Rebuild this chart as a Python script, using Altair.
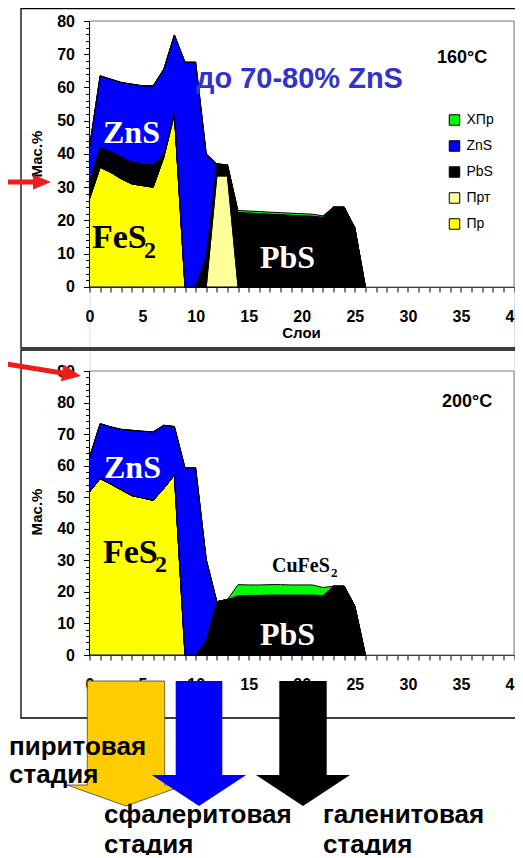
import altair as alt
import pandas as pd

SANS = "Liberation Sans, Arial, sans-serif"
SERIF = "Liberation Serif, Times New Roman, serif"

# ---------------- data ----------------
layers_x = list(range(27))

# stack order bottom -> top: Пр, Прт, PbS, ZnS, ХПр
top_pr = [26.5, 36.0, 34.5, 32.5, 31.0, 30.5, 30.0, 39.0, 52.0] + [0.0] * 18
top_prt = [0.0] * 12 + [33.4, 33.4] + [0.0] * 13
top_pbs = [5.0, 6.0, 6.2, 6.7, 6.5, 6.6, 6.7, 1.0, 0.0, 0.0, 0.0, 9.2, 3.6, 3.3,
           22.4, 22.25, 22.1, 21.9, 21.75, 21.6, 21.45, 21.3, 21.0, 24.0, 24.0, 17.8, 0.0]
top_zns = [10.5, 21.5, 21.8, 22.3, 23.5, 23.4, 23.8, 25.5, 23.8, 67.6, 67.6, 30.8] + [0.0] * 15
top_xpr = [0.0] * 14 + [0.6] * 8 + [0.4] + [0.0] * 4

bot_pr = [51.7, 55.9, 54.2, 52.3, 50.5, 49.8, 49.0, 52.8, 57.0] + [0.0] * 18
bot_prt = [0.0] * 27
bot_pbs = [0.0] * 11 + [4.5, 16.9, 17.6, 18.8, 18.9, 18.9, 19.0, 19.0, 19.0, 19.0, 19.0,
                        18.8, 21.8, 21.8, 15.5, 0.0]
bot_zns = [10.9, 17.4, 18.1, 19.2, 20.7, 21.1, 21.7, 20.0, 15.4, 59.3, 59.3, 25.8] + [0.0] * 15
bot_xpr = [0.0] * 14 + [3.5, 3.3, 3.3, 3.3, 3.3, 3.2, 3.2, 3.2, 2.6] + [0.0] * 4

legend_order = ["ХПр", "ZnS", "PbS", "Прт", "Пр"]
legend_colors = ["#00ff00", "#0000ff", "#000000", "#ffff99", "#ffff00"]
stack_rank = {"Пр": 0, "Прт": 1, "PbS": 2, "ZnS": 3, "ХПр": 4}


def long_df(series):
    rows = []
    for name, vals in series.items():
        for x, v in zip(layers_x, vals):
            rows.append({"x": x, "mineral": name, "value": v, "ord": stack_rank[name]})
    return pd.DataFrame(rows)


top_df = long_df({"Пр": top_pr, "Прт": top_prt, "PbS": top_pbs, "ZnS": top_zns, "ХПр": top_xpr})
bot_df = long_df({"Пр": bot_pr, "Прт": bot_prt, "PbS": bot_pbs, "ZnS": bot_zns, "ХПр": bot_xpr})

# ---------------- helpers ----------------
blank = alt.Data(values=[{"a": 1}])

color_scale = alt.Scale(domain=legend_order, range=legend_colors)
legend = alt.Legend(orient="none", legendX=358, legendY=92, title=None, symbolType="square",
                    symbolSize=110, symbolStrokeColor="black", symbolStrokeWidth=1,
                    symbolOpacity=1, labelFont=SANS, labelFontSize=14, labelColor="black",
                    labelOffset=5, rowPadding=10, padding=0)

xaxis_kw = dict(orient="bottom", values=list(range(0, 41)),
                labelExpr="datum.value % 5 === 0 ? datum.label : ''",
                tickSize=5, tickColor="black", domainColor="black", domainWidth=1,
                labelFont=SANS, labelFontSize=16, labelFontWeight="bold", labelColor="black",
                labelPadding=16, grid=False, title=None, labelFlush=False, labelOverlap=False)


def yaxis(maxv):
    return alt.Axis(orient="left", values=list(range(0, maxv + 1, 2)),
                    labelExpr="datum.value % 10 === 0 ? datum.label : ''",
                    tickSize={"condition": {"test": "datum.value % 10 === 0", "value": 6}, "value": 4},
                    tickColor="black", domain=False, grid=False, title=None,
                    labelFont=SANS, labelFontSize=16, labelFontWeight="bold", labelColor="black",
                    labelPadding=9, labelOverlap=False)


def area_layer(df, ydomain, ymax_axis, xoffset):
    return alt.Chart(df).mark_area(stroke="black", strokeWidth=1, opacity=1).encode(
        x=alt.X("x:Q", scale=alt.Scale(domain=[0, 40], nice=False, zero=False),
                axis=alt.Axis(offset=xoffset, **xaxis_kw)),
        y=alt.Y("value:Q", stack="zero", scale=alt.Scale(domain=ydomain, nice=False, zero=False),
                axis=yaxis(ymax_axis)),
        color=alt.Color("mineral:N", scale=color_scale, legend=legend),
        order=alt.Order("ord:Q", sort="ascending"),
    )


def label(text, x, y, size, color="black", font=SANS, weight="bold", align="left",
          baseline="alphabetic", angle=0):
    return alt.Chart(blank).mark_text(text=text, fontSize=size, font=font, fontWeight=weight,
                                      color=color, align=align, baseline=baseline,
                                      angle=angle).encode(x=alt.value(x), y=alt.value(y))


def box(x1, y1, x2, y2, stroke, width):
    return alt.Chart(blank).mark_rect(fillOpacity=0, stroke=stroke, strokeWidth=width).encode(
        x=alt.value(x1), x2=alt.value(x2), y=alt.value(y1), y2=alt.value(y2))


def rule(x1, y1, x2, y2, color="black", width=1):
    return alt.Chart(blank).mark_rule(color=color, strokeWidth=width).encode(
        x=alt.value(x1), x2=alt.value(x2), y=alt.value(y1), y2=alt.value(y2))


def shape(path, x, y, fill, stroke="black", sw=0, angle=0):
    return alt.Chart(blank).mark_point(shape=path, size=4, filled=True, fill=fill, stroke=stroke,
                                       strokeWidth=sw, opacity=1, fillOpacity=1,
                                       angle=angle).encode(x=alt.value(x), y=alt.value(y))


# ---------------- layers ----------------
frames = [
    box(-68.5, -12.5, 600, 327, "black", 1.3),
    box(-68.5, 329, 600, 697, "black", 1.3),
    box(0, 0, 424.5, 266, "#808080", 1),
    box(0, 350, 424.5, 634, "#808080", 1),
]

top_area = area_layer(top_df, [-110.68, 80], 80, -368)
bot_area = area_layer(bot_df, [0, 200.92], 90, 0)

axis_lines = [rule(0, 0, 0, 266), rule(0, 350, 0, 634)]

texts = [
    label("до 70-80% ZnS", 106.5, 67, 29, color="#3333cc"),
    label("160°C", 347.5, 42, 18),
    label("200°C", 352.5, 386, 18),
    label("ZnS", 13.5, 122, 32, color="white", font=SERIF),
    label("FeS", 2.5, 227, 34, font=SERIF),
    label("2", 54.5, 237, 24, font=SERIF),
    label("PbS", 170.5, 247, 32, color="white", font=SERIF),
    label("ZnS", 14.5, 457, 32, color="white", font=SERIF),
    label("FeS", 13.5, 542, 34, font=SERIF),
    label("2", 65.5, 551, 24, font=SERIF),
    label("PbS", 170.5, 624, 32, color="white", font=SERIF),
    label("CuFeS", 182.5, 551, 20, font=SERIF),
    label("2", 241.5, 556, 13, font=SERIF),
    label("Мас.%", -52.5, 133, 15, align="center", baseline="middle", angle=270),
    label("Мас.%", -52.5, 491, 15, align="center", baseline="middle", angle=270),
    label("Слои", 212, 317, 15, align="center"),
]

arrows = [
    shape("M0,-2.5L33,-2.5L33,-7.5L51,0L33,7.5L33,2.5L0,2.5Z", -89.5, 161, "#ee1c1c"),
    shape("M0,-2.5L63,-2.5L63,-8.5L82,0L63,8.5L63,2.5L0,2.5Z", -89.5, 342, "#ee1c1c", angle=9.1),
    shape("M-38.7,0L38.7,0L38.7,104L59,104L0,125L-59,104L-38.7,104Z", 36.5, 660, "#ffcc00",
          stroke="#444444", sw=0.8),
    shape("M-23.3,0L23.3,0L23.3,94L47.2,94L0,125L-47.2,94L-23.3,94Z", 109.5, 660, "#0000ff"),
    shape("M-23.7,0L23.7,0L23.7,94L47,94L0,125L-47,94L-23.7,94Z", 213.5, 660, "#000000"),
]

stage_texts = [
    label("пиритовая", -80.5, 734, 26),
    label("стадия", -80.5, 762, 26),
    label("сфалеритовая", 14.5, 802, 26),
    label("стадия", 14.5, 832, 26),
    label("галенитовая", 233.5, 802, 26),
    label("стадия", 233.5, 832, 26),
]

chart = alt.layer(
    *frames, top_area, bot_area, *axis_lines, *texts, *arrows, *stage_texts
).resolve_scale(
    x="independent", y="independent"
).properties(
    width=424.5, height=634,
    autosize=alt.AutoSizeParams(type="none"),
    padding={"left": 81.5, "top": 13, "right": 1, "bottom": 200},
).configure_view(strokeOpacity=0).configure(background="white")

chart.save("out.html", embed_options={"renderer": "svg", "actions": False})
